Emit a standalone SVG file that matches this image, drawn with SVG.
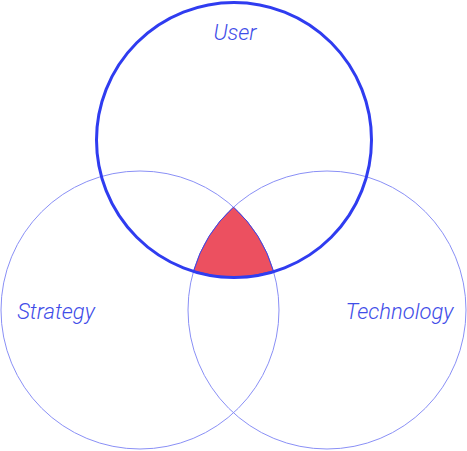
<svg xmlns="http://www.w3.org/2000/svg" width="467" height="451" viewBox="0 0 467 451">
<style>
.thin{fill:none;stroke:#8a90f6;stroke-width:1}
.thick{fill:none;stroke:#2f3cf0;stroke-width:3}
.core{fill:#ec5060;stroke:#3a46e8;stroke-width:1}
.lbl{font-family:Roboto,"Liberation Sans",sans-serif;font-style:italic;font-weight:300;font-size:22px;fill:#3f4de8;text-anchor:middle}
</style>
<rect width="467" height="451" fill="#ffffff"/>
<g id="strategy">
<circle class="thin" cx="140" cy="310" r="139"/>
<text class="lbl" x="56" y="319">Strategy</text>
</g>
<g id="technology">
<circle class="thin" cx="327" cy="310" r="139"/>
<text class="lbl" x="399.5" y="319">Technology</text>
</g>
<g id="intersection">
<path class="core" d="M233.5,207.1 A139,139 0 0,1 273.4,271 A137,137 0 0,1 193.6,271 A139,139 0 0,1 233.5,207.1 Z"/>
</g>
<g id="user">
<circle class="thick" cx="234" cy="140" r="137.5"/>
<text class="lbl" x="235" y="40">User</text>
</g>
<g id="connectors"></g>
</svg>
